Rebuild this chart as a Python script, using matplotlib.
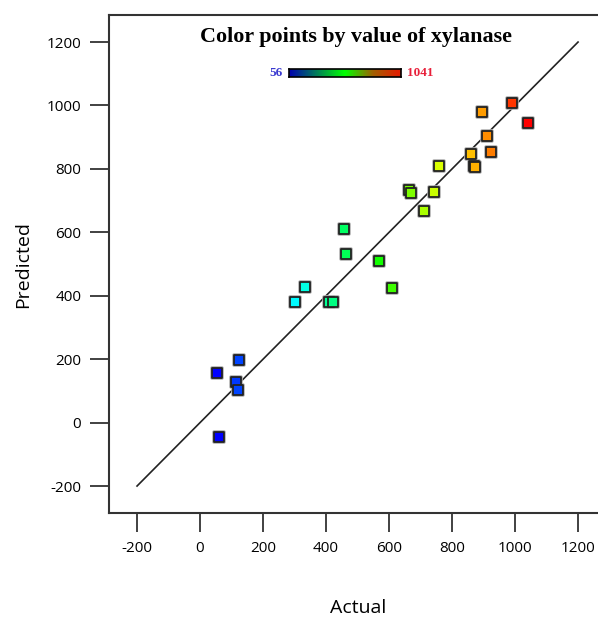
import numpy as np
import matplotlib
matplotlib.use("Agg")
import matplotlib.pyplot as plt
from matplotlib.colors import LinearSegmentedColormap, Normalize
import matplotlib.patheffects as pe

# Data
actual = [59, 55, 124, 113, 122, 302, 332, 409, 422, 456, 464, 567, 609,
          663, 671, 711, 744, 760, 860, 870, 874, 894, 910, 924, 990, 1042]
predicted = [-44, 157, 197, 128, 102, 380, 429, 381, 380, 611, 532, 511, 425,
             733, 725, 667, 726, 808, 846, 809, 806, 980, 905, 853, 1009, 944]
x_ticks = [-200, 0, 200, 400, 600, 800, 1000, 1200]
y_ticks = [-200, 0, 200, 400, 600, 800, 1000, 1200]
vmin, vmax = 56, 1041
title = "Color points by value of xylanase"

point_cmap = LinearSegmentedColormap.from_list(
    "pts", [(0.0, "#0000ff"), (0.25, "#00ffff"), (0.5, "#00ff00"),
            (0.75, "#ffff00"), (0.88, "#ff8000"), (1.0, "#ff0000")])
bar_cmap = LinearSegmentedColormap.from_list(
    "bar", [(0.0, "#0000b0"), (0.5, "#00ff00"), (0.75, "#a06000"),
            (0.97, "#e02000"), (1.0, "#e02000")])

fig = plt.figure(figsize=(5.98, 6.19), dpi=100)
ax = fig.add_axes([109/598, 106/619, 497.4/598, 497.9/619])
ax.set_xlim(-289, 1290)
ax.set_ylim(-285, 1285)

ax.plot([x_ticks[0], x_ticks[-1]], [y_ticks[0], y_ticks[-1]], color="#222222", lw=1.2, zorder=2)

norm = Normalize(vmin, vmax)
cols = point_cmap(norm(np.array(actual)))
ax.scatter(actual, predicted, s=52, marker="s", c=cols, edgecolors="#222222",
           linewidths=1.3, zorder=3,
           path_effects=[pe.Stroke(linewidth=2.6, foreground="#b0b0b0"), pe.Normal()])

ax.set_xticks(x_ticks)
ax.set_yticks(y_ticks)
tick_font = dict(family="Open Sans", size=11)
ax.set_xticklabels([str(t) for t in x_ticks], **tick_font)
ax.set_yticklabels([str(t) for t in y_ticks], **tick_font)
ax.tick_params(direction="out", length=14, width=1.3, color="#333333", pad=6)
for s in ax.spines.values():
    s.set_color("#333333")
    s.set_linewidth(1.5)

ax.set_xlabel("Actual", family="Open Sans", fontsize=14, labelpad=31)
ax.set_ylabel("Predicted", family="Open Sans", fontsize=14, labelpad=10)

fig.text(356/598, 1 - 37/619, title, family="Liberation Serif", weight="bold",
         fontsize=15.8, ha="center", va="center")

# small colour bar
cax = fig.add_axes([289/598, 1 - 77/619, 112/598, 8/619])
cax.imshow(np.linspace(0, 1, 256)[None, :], aspect="auto", cmap=bar_cmap)
cax.set_xticks([]); cax.set_yticks([])
for s in cax.spines.values():
    s.set_linewidth(1.2)
    s.set_color("black")
fig.text(283/598, 1 - 73/619, str(vmin), family="Liberation Serif", weight="bold",
         fontsize=9.5, color="#3a3ad0", ha="right", va="center")
fig.text(407/598, 1 - 73/619, str(vmax), family="Liberation Serif", weight="bold",
         fontsize=9.5, color="#e8203a", ha="left", va="center")

fig.savefig("out.png", dpi=100)
